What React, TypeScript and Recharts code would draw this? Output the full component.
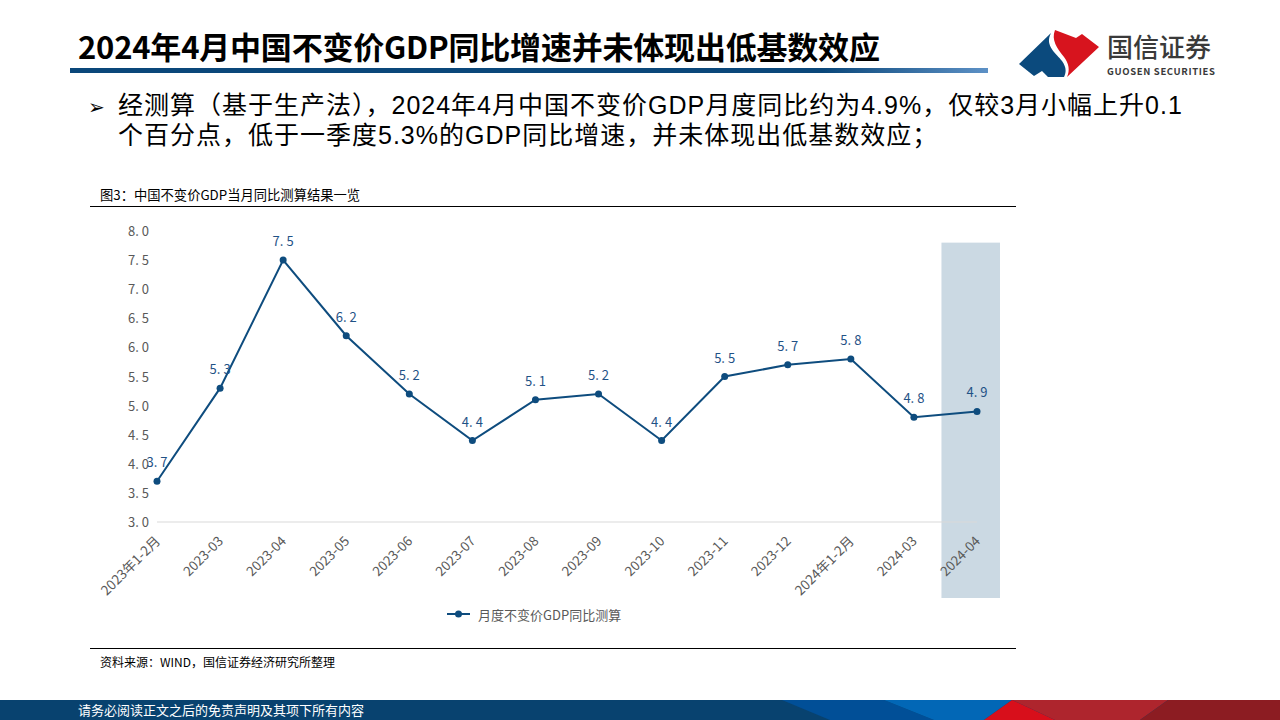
import React from 'react';
import { LineChart, Line, XAxis, YAxis, ReferenceArea } from 'recharts';

const categories = ['2023年1-2月', '2023-03', '2023-04', '2023-05', '2023-06', '2023-07', '2023-08', '2023-09', '2023-10', '2023-11', '2023-12', '2024年1-2月', '2024-03', '2024-04'];
const gdpYoY = [3.7, 5.3, 7.5, 6.2, 5.2, 4.4, 5.1, 5.2, 4.4, 5.5, 5.7, 5.8, 4.8, 4.9];
const yTicks = [3.0, 3.5, 4.0, 4.5, 5.0, 5.5, 6.0, 6.5, 7.0, 7.5, 8.0];
const seriesName = '月度不变价GDP同比测算';
const highlightFrom = '2024-03';
const highlightTo = '2024-04';
const highlightTop = 7.8;

const titleText = '2024年4月中国不变价GDP同比增速并未体现出低基数效应';
const bulletLine1 = '经测算（基于生产法），2024年4月中国不变价GDP月度同比约为4.9%，仅较3月小幅上升0.1';
const bulletLine2 = '个百分点，低于一季度5.3%的GDP同比增速，并未体现出低基数效应；';
const figCaption = '图3：中国不变价GDP当月同比测算结果一览';
const sourceText = '资料来源：WIND，国信证券经济研究所整理';
const footerText = '请务必阅读正文之后的免责声明及其项下所有内容';

const data = categories.map((c, i) => ({ cat: c, v: gdpYoY[i] }));

const LINE = '#0e4c7e';
const LABEL = '#1f5286';
const GRAY = '#595959';
const FONT = '"Noto Sans CJK SC", "Noto Sans", sans-serif';
const BODY_FONT = '"Liberation Sans", "Noto Sans CJK SC", sans-serif';

const splitNum = (v: number) => {
  const s = v.toFixed(1);
  const idx = s.indexOf('.');
  return [s.slice(0, idx + 1), s.slice(idx + 1)];
};

const YTick = (props: any) => {
  const { x, y, payload } = props;
  const [a, b] = splitNum(payload.value);
  return (
    <text x={x} y={y + 5} textAnchor="end" fontSize={13} fill={GRAY} fontFamily={FONT}>
      <tspan>{a}</tspan>
      <tspan dx={3}>{b}</tspan>
    </text>
  );
};

const XTick = (props: any) => {
  const { x, y, payload } = props;
  return (
    <g transform={`translate(${x + 4},${y + 12})`}>
      <text textAnchor="end" transform="rotate(-45)" fontSize={13.5} fill={GRAY} fontFamily={FONT}>
        {payload.value}
      </text>
    </g>
  );
};

const ValueLabel = (props: any) => {
  const { x, y, value } = props;
  const [a, b] = splitNum(value);
  return (
    <text x={x} y={y - 14} textAnchor="middle" fontSize={13} fill={LABEL} fontFamily={FONT}>
      <tspan>{a}</tspan>
      <tspan dx={3}>{b}</tspan>
    </text>
  );
};

const BandShape = (props: any) => {
  const { x, y, width, height } = props;
  return <rect x={x + width / 2 - 4} y={y} width={width} height={height + 76} fill="#cbd9e3" />;
};

export default function App() {
  return (
    <div style={{ position: 'absolute', left: 0, top: 0, width: 1280, height: 720, background: '#fff', overflow: 'hidden', fontFamily: FONT }}>
      {/* Title */}
      <div style={{ position: 'absolute', left: 78, top: 26, fontSize: 31, fontWeight: 700, color: '#000', whiteSpace: 'nowrap', lineHeight: '40px', letterSpacing: -0.2 }}>
        {titleText}
      </div>
      <div style={{ position: 'absolute', left: 70, top: 68, width: 918, height: 5, background: 'linear-gradient(to right, #0a477a 0%, #0a477a 82%, #5d91c6 100%)' }} />

      {/* Logo */}
      <svg style={{ position: 'absolute', left: 0, top: 0 }} width={1280} height={90}>
        <path d="M1019,64 L1051,33 C1044,46 1057,54 1062,61 C1067,68 1066,73 1064,77 L1048,77 L1042,71 L1034,76 Z" fill="#0b4a7d" />
        <path d="M1055,30 L1076,38 L1082,34 L1099,47 L1067,77 C1070,70 1069,64 1064,57 C1057,48 1051,40 1055,30 Z" fill="#d7141e" />
        <text x={1107} y={57} fontSize={26} fill="#3a3a3a" fontFamily={FONT} fontWeight={500}>国信证券</text>
        <text x={1107} y={75} fontSize={9.5} fill="#3a3a3a" fontFamily={FONT} fontWeight={700} textLength={108}>GUOSEN SECURITIES</text>
      </svg>

      {/* Bullet text */}
      <div style={{ position: 'absolute', left: 88, top: 91, fontSize: 25, lineHeight: '28px', letterSpacing: 1, color: '#000', whiteSpace: 'nowrap', fontFamily: BODY_FONT }}>
        <div><span style={{ fontFamily: '"DejaVu Sans"', fontSize: 20, display: 'inline-block', width: 30, letterSpacing: 0 }}>➢</span>{bulletLine1}</div>
        <div style={{ paddingLeft: 30 }}>{bulletLine2}</div>
      </div>

      {/* Figure caption and rules */}
      <div style={{ position: 'absolute', left: 100, top: 185, fontSize: 13.3, color: '#000', whiteSpace: 'nowrap' }}>{figCaption}</div>
      <div style={{ position: 'absolute', left: 90, top: 206, width: 926, height: 1, background: '#000' }} />
      <div style={{ position: 'absolute', left: 90, top: 648, width: 926, height: 1, background: '#000' }} />
      <div style={{ position: 'absolute', left: 100, top: 653, fontSize: 12, color: '#000', whiteSpace: 'nowrap' }}>{sourceText}</div>

      {/* Chart */}
      <div style={{ position: 'absolute', left: 0, top: 200 }}>
        <LineChart width={1000} height={440} data={data} margin={{ top: 31, right: 23, left: 97, bottom: 18 }}>
          <ReferenceArea x1={highlightFrom} x2={highlightTo} y1={highlightTop} y2={3} ifOverflow="visible" shape={<BandShape />} />
          <XAxis dataKey="cat" scale="point" interval={0} height={100} tickLine={false} axisLine={{ stroke: '#d9d9d9' }} tick={<XTick />} />
          <YAxis domain={[3, 8]} ticks={yTicks} width={60} axisLine={false} tickLine={false} tick={<YTick />} interval={0} />
          <Line dataKey="v" name={seriesName} stroke={LINE} strokeWidth={2} dot={{ r: 3.5, fill: LINE, stroke: LINE, strokeWidth: 0 }} isAnimationActive={false} label={<ValueLabel />} />
        </LineChart>
      </div>

      {/* Legend */}
      <div style={{ position: 'absolute', left: 446, top: 604, display: 'flex', alignItems: 'center', whiteSpace: 'nowrap' }}>
        <svg width={26} height={20}>
          <line x1={1} y1={10} x2={24} y2={10} stroke={LINE} strokeWidth={2} />
          <circle cx={12.5} cy={10} r={3.5} fill={LINE} />
        </svg>
        <span style={{ fontSize: 13, color: GRAY, marginLeft: 6 }}>{seriesName}</span>
      </div>

      {/* Footer */}
      <svg style={{ position: 'absolute', left: 0, top: 700 }} width={1280} height={20}>
        <rect x={0} y={0} width={1280} height={20} fill="#08426f" />
        <polygon points="782,0 884,0 934,20 830,20" fill="#014f97" />
        <polygon points="884,0 1012,0 984,20 934,20" fill="#0267b6" />
        <polygon points="1012,0 1168,0 1140,20 1055,20" fill="#ae252d" />
        <polygon points="1012,0 1055,20 984,20" fill="#d80f1b" />
        <polygon points="1168,0 1280,0 1280,20 1140,20" fill="#8c1c22" />
        <text x={78} y={15} fontSize={13} fill="#fff" fontFamily={FONT}>{footerText}</text>
      </svg>
    </div>
  );
}
